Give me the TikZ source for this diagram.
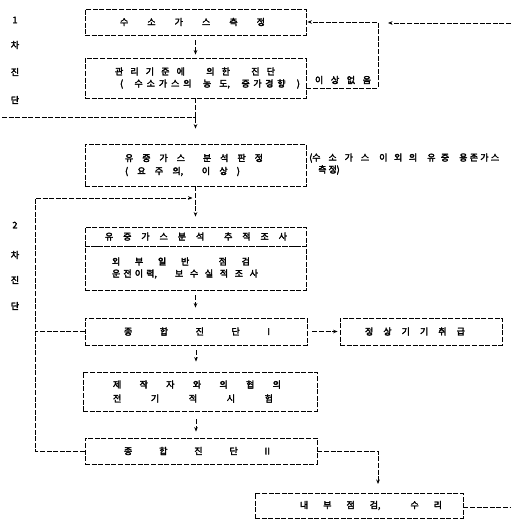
\documentclass[tikz,border=0pt]{standalone}
\usepackage{fontspec}
\newfontfamily\kr[FakeBold=3]{Noto Sans CJK KR}
\usetikzlibrary{arrows.meta}
\newcommand\spr[2]{\makebox[#1pt]{#2}}
\tikzset{
  dl/.style={line width=0.85pt, dash pattern=on 5pt off 1.6pt},
  box/.style={dl, draw, rectangle, inner xsep=0pt, inner ysep=0pt, align=left,
    font=\kr\fontsize{9}{12}\selectfont},
  arr/.style={dl, -{Stealth[length=4.5pt,width=3.6pt]}},
  lab/.style={font=\kr\fontsize{9}{12}\selectfont, inner sep=0pt},
}
\begin{document}
\begin{tikzpicture}[x=1pt,y=-1pt]
\useasboundingbox[fill=white] (0,0) rectangle (512,519);

% side labels
\node[lab] (s1a) at (15,20) {1};
\node[lab] (s1b) at (15,45) {차};
\node[lab] (s1c) at (15,72) {진};
\node[lab] (s1d) at (15,100) {단};
\node[lab] (s2a) at (15,225) {2};
\node[lab] (s2b) at (15,255) {차};
\node[lab] (s2c) at (15,280) {진};
\node[lab] (s2d) at (15,306) {단};

% boxes
\node[box, text width=221pt, minimum height=26pt] (b1) at (195.5,22)
  {\hspace*{35pt}\spr{145}{수\hfill 소\hfill 가\hfill 스\hfill 측\hfill 정}};
\node[box, text width=221pt, minimum height=40pt] (b2) at (195.5,78)
  {\hspace*{30pt}\spr{160}{관\hfill 리\hfill 기\hfill 준\hfill 에\hfill\hfill\hfill 의\hfill 한\hfill\hfill\hfill 진\hfill 단}\\
   \hspace*{35pt}\spr{180}{(\hfill\spr{57}{수\hfill 소\hfill 가\hfill 스\hfill 의}\hfill\spr{27}{농\hfill 도,}\hfill\spr{44}{증\hfill 가\hfill 경\hfill 향}\hfill)}};
\node[box, text width=221pt, minimum height=42pt] (b3) at (195.5,165)
  {\hspace*{40pt}\spr{138}{유\hfill 중\hfill 가\hfill 스\hfill\hfill 분\hfill 석\hfill 판\hfill 정}\\[1pt]
   \hspace*{40pt}\spr{115}{(\hfill 요\hfill 주\hfill 의,\hfill\hfill 이\hfill 상\hfill )}};
\node[box, text width=221pt, minimum height=19pt] (b4a) at (195.5,236.5)
  {\hspace*{20pt}\spr{182}{유\hfill 중\hfill 가\hfill 스\hfill 분\hfill 석\hfill\hfill 추\hfill 적\hfill 조\hfill 사}};
\node[box, text width=221pt, minimum height=44pt] (b4b) at (195.5,268)
  {\hspace*{27pt}\spr{138}{외\hfill 부\hfill 일\hfill 반\hfill\hfill 점\hfill 검}\\
   \hspace*{27pt}\spr{146}{\spr{45}{운\hfill 전\hfill 이\hfill 력,}\hfill\spr{83}{보\hfill 수\hfill 실\hfill 적\hfill 조\hfill 사}}};
\node[box, text width=222pt, minimum height=27pt] (b5) at (196,331.5)
  {\hspace*{39pt}\spr{146}{종\hfill 합\hfill 진\hfill 단\hfill I}};
\node[box, text width=162pt, minimum height=27pt] (b6) at (421,331.5)
  {\hspace*{25pt}\spr{100}{정\hfill 상\hfill 기\hfill 기\hfill 취\hfill 급}};
\node[box, text width=234pt, minimum height=39pt] (b7) at (200,391.5)
  {\hspace*{30pt}\spr{168}{제\hfill 작\hfill 자\hfill 와\hfill 의\hfill 협\hfill 의}\\[2pt]
   \hspace*{30pt}\spr{160}{전\hfill 기\hfill 적\hfill 시\hfill 험}};
\node[box, text width=232pt, minimum height=26pt] (b8) at (201,451)
  {\hspace*{39pt}\spr{146}{종\hfill 합\hfill 진\hfill 단\hfill II}};
\node[box, text width=208pt, minimum height=25pt] (b9) at (359,505.5)
  {\hspace*{45pt}\spr{142}{내\hfill 부\hfill 점\hfill 검,\hfill\hfill 수\hfill 리}};

% side texts
\node[lab] (ok) at (343,80) {\spr{56}{이\hfill 상\hfill 없\hfill 음}};
\node[lab, anchor=west, align=left] (gasnote) at (309,164)
  {\spr{190}{\spr{60}{(수\hfill 소\hfill 가\hfill 스}\hfill\spr{38}{이\hfill 외\hfill 의}\hfill\spr{22}{유\hfill 중}\hfill\spr{40}{용\hfill 존\hfill 가\hfill 스}}\\
   \hspace*{9pt}측\hspace{2pt}정)};

% main flow
\draw[arr, shorten <=5pt, shorten >=3pt] (b1.south) -- (b2.north);
\draw[arr, shorten >=15pt] (b2.south) -- (b3.north);
\draw[arr, shorten >=10pt] (b3.south) -- (b4a.north);
\draw[arr, shorten <=5pt, shorten >=10pt] (b4b.south) -- (b4b.south |- b5.north);
\draw[arr, shorten <=5pt, shorten >=10pt] (b5.south) -- (b5.south |- b7.north);
\draw[arr, shorten <=8pt, shorten >=6pt] (b5.south |- b7.south) -- (b5.south |- b8.north);
\draw[arr, shorten <=5pt, shorten >=2pt] (b5.east) -- (b6.west);

% feedback right (no abnormality)
\coordinate (r1) at (378,88);
\coordinate (r2) at (378,22);
\draw[arr, shorten >=1pt] (b2.east |- r1) -- (r1) -- (r2) -- (b1.east);
\coordinate (rt) at (511,23);
\coordinate (rt2) at (388,23);
\draw[arr] (rt) -- (rt2);

% left incoming
\coordinate (l0) at (2,117);
\draw[dl] (l0) -- (l0 -| b2.south);

% loop from comprehensive diagnoses
\coordinate (lt) at (35,198);
\draw[arr, shorten >=3pt] (b8.west) -| (lt) -- (lt -| b3.south);
\draw[dl] (b5.west) -- (b5.west -| lt);

% to internal inspection
\coordinate (c9) at (378,493);
\draw[arr, shorten >=9pt] (b8.east) -| (c9);
\coordinate (rb) at (511,507);
\draw[dl] (b9.east |- rb) -- (rb);
\end{tikzpicture}
\end{document}
